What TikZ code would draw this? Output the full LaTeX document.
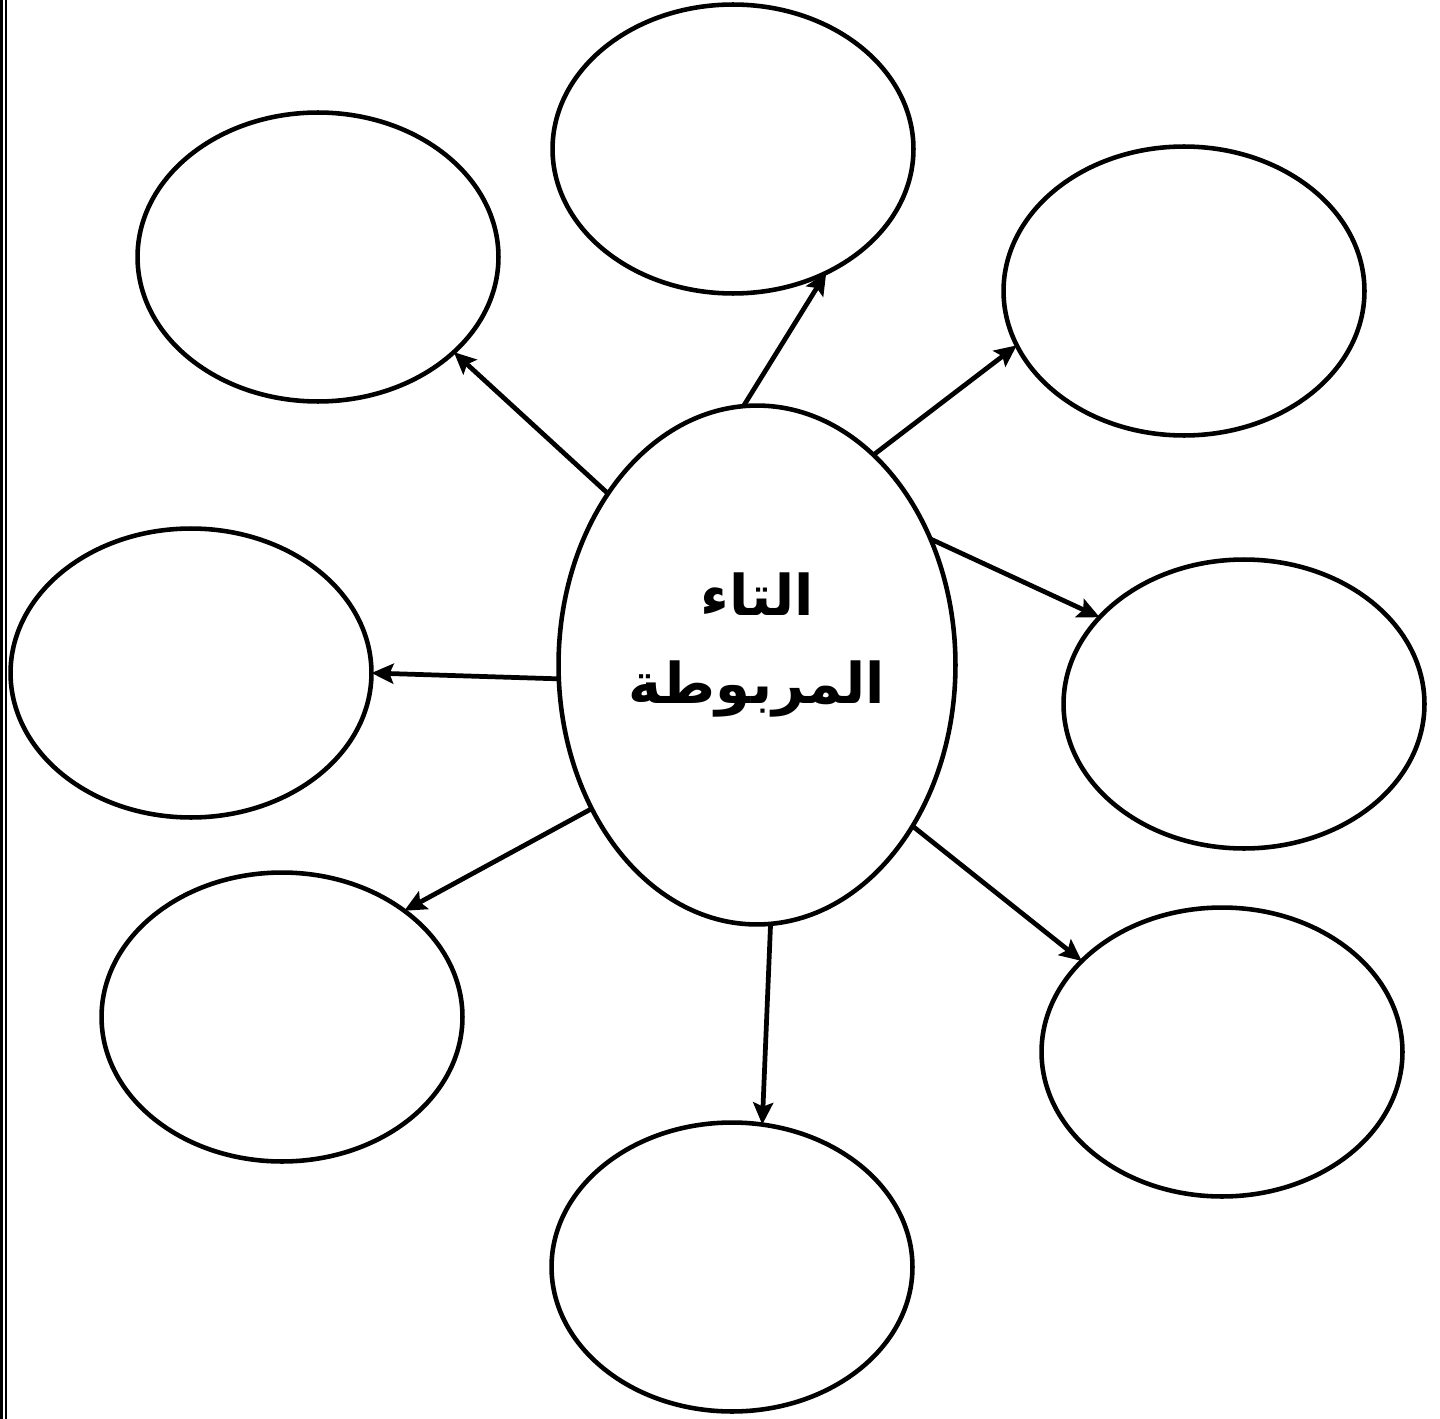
\documentclass[tikz,border=0pt]{standalone}
\usepackage{fontspec}
\usepackage{xcolor}
\usetikzlibrary{shapes.geometric, arrows.meta, positioning}
\newfontfamily\arabicfont[Script=Arabic]{DejaVu Sans}
\TeXXeTstate=1

\begin{document}
\begin{tikzpicture}[x=0.02cm, y=-0.02cm]
    % Define styles
    \tikzstyle{bubble} = [ellipse, draw=black, line width=2.6pt, inner sep=0pt, outer sep=0pt, minimum width=7.22cm, minimum height=5.78cm]
    \tikzstyle{core} = [ellipse, draw=black, line width=2.6pt, inner sep=0pt, outer sep=0pt, minimum width=7.94cm, minimum height=10.38cm]
    \tikzstyle{arrow} = [line width=2.7pt, -{Stealth[length=4.4mm, width=4mm, inset=0.8mm]}]

    \useasboundingbox (0,0) rectangle (1440,1419);
    \fill[white] (0,0) rectangle (1440,1419);

    % Page border
    \coordinate (bt) at (1.5,0);
    \coordinate (bb) at (1.5,1419);
    \draw[line width=0.06cm] (bt) -- (bb);
    \draw[line width=0.032cm] ([xshift=0.09cm]bt) -- ([xshift=0.09cm]bb);

    % Nodes
    \node (core) [core] at (757,665) {};
    \node (title) [align=center, font=\fontsize{32}{50}\selectfont\arabicfont\bfseries] at ([yshift=0.4cm]core.center) {\beginR التاء\endR\\ \beginR المربوطة\endR};
    \node (top) [bubble] at (733,149) {};
    \node (topleft) [bubble] at (318,257) {};
    \node (topright) [bubble] at (1184,291) {};
    \node (left) [bubble] at (191,673) {};
    \node (right) [bubble] at (1244,704) {};
    \node (botleft) [bubble] at (282,1017) {};
    \node (botright) [bubble] at (1222,1052) {};
    \node (bottom) [bubble] at (732,1267) {};

    % Arrows
    \draw [arrow] (core.93) -- (top.-53.4);
    \draw [arrow] (core.131.9) -- (topleft.-35.7);
    \draw [arrow] (core.61) -- (topright.198);
    \draw [arrow] (core.36.4) -- (right.149.1);
    \draw [arrow] (core.184.8) -- (left.0);
    \draw [arrow] (core.221.2) -- (botleft.41.8);
    \draw [arrow] (core.-46.8) -- (botright.147.4);
    \draw [arrow] (core.-87) -- (bottom.78.5);
\end{tikzpicture}
\end{document}
